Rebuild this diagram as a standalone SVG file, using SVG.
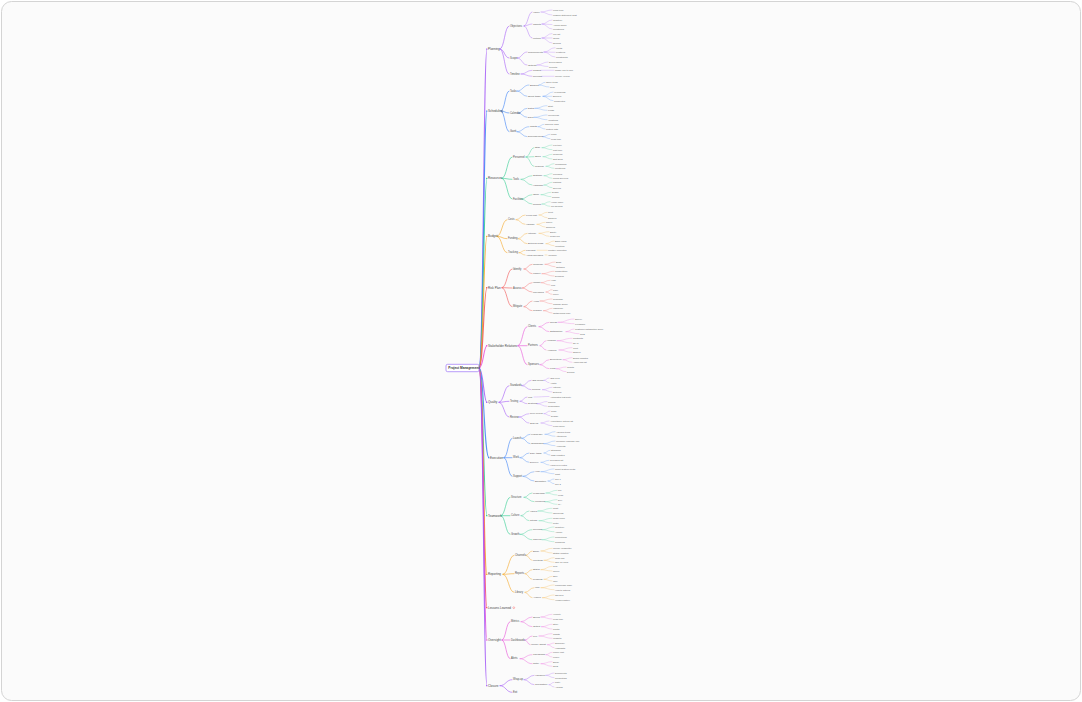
<svg xmlns="http://www.w3.org/2000/svg" width="1082" height="702" viewBox="0 0 1082 702">
<style>
text{font-family:"Liberation Sans",Arial,sans-serif;fill:#555;dominant-baseline:central}
.r{font-size:3.2px;font-weight:bold;fill:#333}
.m{font-size:3px;fill:#444}
.a{font-size:2.6px;fill:#4a4a4a}
.b{font-size:2.4px}
.c{font-size:2.3px;fill:#666}
path{fill:none;stroke-linecap:round}
.w0{stroke-width:1.1;stroke-opacity:.85}.w1{stroke-width:0.6}.w2{stroke-width:0.45;stroke-opacity:.9}.w3{stroke-width:0.35;stroke-opacity:.75}
.k1{stroke:#a259f7}.k2{stroke:#3b82f6}.k3{stroke:#2ecc8f}.k4{stroke:#f5a623}.k5{stroke:#f25454}.k6{stroke:#e84fd8}
.f1{fill:#a259f7}.f2{fill:#3b82f6}.f3{fill:#2ecc8f}.f4{fill:#f5a623}.f5{fill:#f25454}.f6{fill:#e84fd8}
</style>
<rect x="1.5" y="1.5" width="1079" height="699" rx="10" fill="#fbfbfb" stroke="#d4d4d4" stroke-width="1"/>
<g id="connectors">
<path class="w0 k1" d="M479 368C483.5 368 483.5 49 487 49"/>
<path class="w0 k2" d="M479 368C483.5 368 483.5 111 487 111"/>
<path class="w0 k3" d="M479 368C483.5 368 483.5 178.3 487 178.3"/>
<path class="w0 k4" d="M479 368C483.5 368 483.5 236.3 487 236.3"/>
<path class="w0 k5" d="M479 368C483.5 368 483.5 287.7 487 287.7"/>
<path class="w0 k6" d="M479 368C483.5 368 483.5 345.7 487 345.7"/>
<path class="w0 k1" d="M479 368C483.5 368 483.5 402.3 487 402.3"/>
<path class="w0 k2" d="M479 368C484 368 484 457.7 489 457.7"/>
<path class="w0 k3" d="M479 368C483.5 368 483.5 515.7 487 515.7"/>
<path class="w0 k4" d="M479 368C483.5 368 483.5 574.3 487 574.3"/>
<path class="w0 k5" d="M479 368C483.5 368 483.5 607.7 487 607.7"/>
<path class="w0 k6" d="M479 368C483.5 368 483.5 640 487 640"/>
<path class="w0 k1" d="M479 368C483.5 368 483.5 685.7 487 685.7"/>

<path class="w1 k1" d="M500 49C504.5 49 504.5 26 509 26M500 49C504.5 49 504.5 58 509 58M500 49C504.5 49 504.5 74 509 74"/>
<path class="w2 k1" d="M524 26C528 26 528 12 532 12M524 26C528 26 528 24 532 24M524 26C528 26 528 38 532 38M517.5 58C522 58 522 52 527 52M517.5 58C522 58 522 65 527 65M521 74C526.5 74 526.5 70.3 532 70.3M521 74C526.5 74 526.5 76.3 532 76.3"/>
<path class="w3 k1" d="M541 12C546.5 12 546.5 10 552 10M541 12C546.5 12 546.5 15 552 15M542 24C547 24 547 20 552 20M542 24C547 24 547 24.5 552 24.5M542 24C547 24 547 29 552 29M542 38C547 38 547 33.5 552 33.5M542 38L552 38M542 38C547 38 547 43 552 43M544 52C549.5 52 549.5 47.7 555 47.7M544 52C549.5 52 549.5 52.3 555 52.3M544 52C549.5 52 549.5 57 555 57M537 65C542.5 65 542.5 62 548 62M537 65C542.5 65 542.5 66.5 548 66.5M541 70.3L554 70.3M542 76.3L554 76.3"/>

<path class="w1 k2" d="M501 111C505 111 505 91 509 91M501 111C505 111 505 113 509 113M501 111C505 111 505 131.7 509 131.7"/>
<path class="w2 k2" d="M517 91C523 91 523 85 529 85M517 91C522 91 522 96.3 527 96.3M518 113C522.5 113 522.5 108.3 527 108.3M518 113C522.5 113 522.5 117.3 527 117.3M517 131.7C523 131.7 523 126.7 529 126.7M517 131.7C522 131.7 522 136.7 527 136.7"/>
<path class="w3 k2" d="M539 85C542 85 542 82.3 545 82.3M539 85C544 85 544 87 549 87M543 96.3C548 96.3 548 92 553 92M543 96.3L552 96.3M543 96.3C548 96.3 548 100.7 553 100.7M535 108.3C541 108.3 541 105.7 547 105.7M535 108.3C541 108.3 541 110.3 547 110.3M534 117.3C540.5 117.3 540.5 115 547 115M534 117.3C540.5 117.3 540.5 119.7 547 119.7M538 126.7C541 126.7 541 124.3 544 124.3M538 126.7C541.5 126.7 541.5 129 545 129M543 136.7C546.5 136.7 546.5 134.3 550 134.3M543 136.7C546.5 136.7 546.5 138.7 550 138.7"/>

<path class="w1 k3" d="M502 178.3C507 178.3 507 157 512 157M502 178.3C507 178.3 507 179.3 512 179.3M502 178.3C507 178.3 507 199 512 199"/>
<path class="w2 k3" d="M526 157C530 157 530 147.7 534 147.7M526 157C530 157 530 156.7 534 156.7M526 157C530 157 530 166.3 534 166.3M521 179.3C526.5 179.3 526.5 175.7 532 175.7M521 179.3C526.5 179.3 526.5 185 532 185M521 199C526.5 199 526.5 194.7 532 194.7M521 199C526.5 199 526.5 204 532 204"/>
<path class="w3 k3" d="M542 147.7C547 147.7 547 145 552 145M542 147.7C547 147.7 547 149.7 552 149.7M543 156.7C547.5 156.7 547.5 154.3 552 154.3M543 156.7C547.5 156.7 547.5 159 552 159M546 166.3C550 166.3 550 163.7 554 163.7M546 166.3C550 166.3 550 168.3 554 168.3M544 175.7C548 175.7 548 173.7 552 173.7M544 175.7C548 175.7 548 178.3 552 178.3M544 185C548 185 548 182.3 552 182.3M544 185C548 185 548 187.7 552 187.7M541 194.7C546 194.7 546 192.3 551 192.3M541 194.7C546 194.7 546 196.7 551 196.7M542 204C546 204 546 201.7 550 201.7M542 204C546 204 546 206.3 550 206.3"/>

<path class="w1 k4" d="M497 236.3C502 236.3 502 219.7 507 219.7M497 236.3C502 236.3 502 238.7 507 238.7M497 236.3C502 236.3 502 252.7 507 252.7"/>
<path class="w2 k4" d="M516 219.7C520.5 219.7 520.5 215 525 215M516 219.7C520.5 219.7 520.5 224.3 525 224.3M518 238.7C522.5 238.7 522.5 233.3 527 233.3M518 238.7C522.5 238.7 522.5 243.7 527 243.7M519 252.7C522 252.7 522 250.3 525 250.3M519 252.7C522 252.7 522 255 525 255"/>
<path class="w3 k4" d="M539 215C543 215 543 212.3 547 212.3M539 215C543 215 543 217.7 547 217.7M537 224.3C541 224.3 541 222.3 545 222.3M537 224.3C541 224.3 541 227 545 227M539 233.3C544 233.3 544 231.7 549 231.7M539 233.3C544 233.3 544 236.3 549 236.3M546 243.7C550 243.7 550 241 554 241M546 243.7C550 243.7 550 245.7 554 245.7M537 250.3L547 250.3M545 255L547 255"/>

<path class="w1 k5" d="M502 287.7C507 287.7 507 269 512 269M502 287.7C507 287.7 507 288 512 288M502 287.7C507 287.7 507 306.7 512 306.7"/>
<path class="w2 k5" d="M524 269C528 269 528 264.3 532 264.3M524 269C528 269 528 273.7 532 273.7M522 288C527 288 527 282.7 532 282.7M522 288C527 288 527 292 532 292M524 306.7C528 306.7 528 301 532 301M524 306.7C528 306.7 528 310.7 532 310.7"/>
<path class="w3 k5" d="M545 264.3C550 264.3 550 262 555 262M545 264.3C550 264.3 550 266.7 555 266.7M542 273.7C548 273.7 548 271.3 554 271.3M542 273.7C548 273.7 548 276 554 276M541 282.7C545.5 282.7 545.5 280.3 550 280.3M541 282.7C545.5 282.7 545.5 285 550 285M546 292C549 292 549 289.7 552 289.7M546 292C549 292 549 294.3 552 294.3M540 301C546 301 546 299 552 299M540 301C546 301 546 303.7 552 303.7M543.5 310.7C548 310.7 548 308.3 552 308.3M543.5 310.7C548 310.7 548 313 552 313"/>

<path class="w1 k6" d="M518 345.7C522.5 345.7 522.5 326.7 527 326.7M518 345.7L527 345.7M518 345.7C522.5 345.7 522.5 364.7 527 364.7"/>
<path class="w2 k6" d="M539 326.7C544 326.7 544 322.3 549 322.3M539 326.7C544 326.7 544 331.7 549 331.7M540 345.7C543 345.7 543 340.7 546 340.7M540 345.7C543 345.7 543 350 546 350M540 364.7C544.5 364.7 544.5 359.7 549 359.7M540 364.7C544.5 364.7 544.5 368.7 549 368.7"/>
<path class="w3 k6" d="M558 322.3C566 322.3 566 319 574 319M558 322.3C566 322.3 566 323.7 574 323.7M566 331.7C570 331.7 570 329 574 329M566 331.7C572.5 331.7 572.5 333.7 579 333.7M557 340.7C564.5 340.7 564.5 338.3 572 338.3M557 340.7C564.5 340.7 564.5 343 572 343M559 350C565.5 350 565.5 347.7 572 347.7M559 350C565.5 350 565.5 352.3 572 352.3M563 359.7C567.5 359.7 567.5 357.7 572 357.7M563 359.7C567.5 359.7 567.5 362.3 572 362.3M556 368.7C561 368.7 561 367 566 367M556 368.7C561 368.7 561 371.7 566 371.7"/>

<path class="w1 k1" d="M499 402.3C504 402.3 504 385.7 509 385.7M499 402.3C504 402.3 504 401.3 509 401.3M499 402.3C504 402.3 504 417 509 417"/>
<path class="w2 k1" d="M522 385.7C526.5 385.7 526.5 380.3 531 380.3M522 385.7C526.5 385.7 526.5 389.7 531 389.7M520 401.3C523.5 401.3 523.5 397 527 397M520 401.3C523.5 401.3 523.5 403.7 527 403.7M519 417C524 417 524 413.7 529 413.7M519 417C524 417 524 423 529 423"/>
<path class="w3 k1" d="M544 380.3C546.5 380.3 546.5 378 549 378M544 380.3C546.5 380.3 546.5 382.7 549 382.7M542.5 389.7C547.5 389.7 547.5 387.3 552 387.3M542.5 389.7C547.5 389.7 547.5 392 552 392M534 397C541.5 397 541.5 396.5 549 396.5M537 403.7C542 403.7 542 401.5 547 401.5M537 403.7C542 403.7 542 406.3 547 406.3M544 413.7C547 413.7 547 411 550 411M544 413.7C547 413.7 547 415.7 550 415.7M541 423C545 423 545 421 549 421M541 423C546.5 423 546.5 425.7 552 425.7"/>

<path class="w1 k2" d="M504 457.7C508 457.7 508 438.3 512 438.3M504 457.7L512 457.7M504 457.7C508 457.7 508 476.3 512 476.3"/>
<path class="w2 k2" d="M522 438.3C526 438.3 526 434.3 530 434.3M522 438.3C526 438.3 526 443.7 530 443.7M520 457.7C524.5 457.7 524.5 453 529 453M520 457.7C524.5 457.7 524.5 462.3 529 462.3M523 476.3C528.5 476.3 528.5 471.7 534 471.7M523 476.3C528.5 476.3 528.5 481 534 481"/>
<path class="w3 k2" d="M545 434.3C550 434.3 550 431.7 555 431.7M545 434.3C550 434.3 550 436.3 555 436.3M544 443.7C549.5 443.7 549.5 441 555 441M544 443.7C549.5 443.7 549.5 445.7 555 445.7M544 453C547 453 547 450.3 550 450.3M544 453C547 453 547 455 550 455M541 462.3C545 462.3 545 460.3 549 460.3M541 462.3C545 462.3 545 465 549 465M541 471.7C547.5 471.7 547.5 469 554 469M541 471.7C547.5 471.7 547.5 473.7 554 473.7M548 481C551 481 551 479 554 479M548 481C551 481 551 483.7 554 483.7"/>

<path class="w1 k3" d="M501 515.7C505.5 515.7 505.5 497.3 510 497.3M501 515.7L510 515.7M501 515.7C505.5 515.7 505.5 534.3 510 534.3"/>
<path class="w2 k3" d="M524 497.3C528 497.3 528 493 532 493M524 497.3C529 497.3 529 501.7 534 501.7M521 515.7C525 515.7 525 511 529 511M521 515.7C525 515.7 525 520.7 529 520.7M520 534.3C526 534.3 526 529.7 532 529.7M520 534.3C526 534.3 526 539.7 532 539.7"/>
<path class="w3 k3" d="M546 493C551.5 493 551.5 490.3 557 490.3M546 493C551.5 493 551.5 495 557 495M545 501.7C551 501.7 551 499.7 557 499.7M545 501.7C551 501.7 551 504.3 557 504.3M538 511C545 511 545 508.3 552 508.3M538 511C545 511 545 513 552 513M539 520.7C545.5 520.7 545.5 518.3 552 518.3M539 520.7C545.5 520.7 545.5 523 552 523M542 529.7C548 529.7 548 527 554 527M542 529.7C548 529.7 548 531.7 554 531.7M542 539.7C548 539.7 548 537 554 537M542 539.7C548 539.7 548 541.7 554 541.7"/>

<path class="w1 k4" d="M503 574.3C508.5 574.3 508.5 555.3 514 555.3M503 574.3C508.5 574.3 508.5 573.7 514 573.7M503 574.3C508.5 574.3 508.5 592.3 514 592.3"/>
<path class="w2 k4" d="M526 555.3C529 555.3 529 551 532 551M526 555.3C529 555.3 529 560.3 532 560.3M525 573.7C528.5 573.7 528.5 569.7 532 569.7M525 573.7C528.5 573.7 528.5 579.3 532 579.3M525 592.3C529.5 592.3 529.5 587.7 534 587.7M525 592.3C528.5 592.3 528.5 597.7 532 597.7"/>
<path class="w3 k4" d="M541 551C546.5 551 546.5 548.3 552 548.3M541 551C546.5 551 546.5 553 552 553M544 560.3C549 560.3 549 557.7 554 557.7M544 560.3C549 560.3 549 562.3 554 562.3M541 569.7C546.5 569.7 546.5 566.3 552 566.3M541 569.7C546.5 569.7 546.5 571 552 571M544 579.3C548 579.3 548 576.3 552 576.3M544 579.3C548 579.3 548 581 552 581M541 587.7C547.5 587.7 547.5 585 554 585M541 587.7C547.5 587.7 547.5 589.7 554 589.7M542.5 597.7C548 597.7 548 595 554 595M542.5 597.7C548 597.7 548 599.7 554 599.7"/>

<path class="w1 k6" d="M502 640C506 640 506 621.7 510 621.7M502 640L510 640M502 640C506 640 506 658.7 510 658.7"/>
<path class="w2 k6" d="M521 621.7C526.5 621.7 526.5 617 532 617M521 621.7C526.5 621.7 526.5 626.7 532 626.7M525 640C528.5 640 528.5 636 532 636M525 640C527.5 640 527.5 644.7 530 644.7M520 658.7C526 658.7 526 654.7 532 654.7M520 658.7C526 658.7 526 663.7 532 663.7"/>
<path class="w3 k6" d="M541 617C546.5 617 546.5 614.3 552 614.3M541 617C546.5 617 546.5 619 552 619M541.5 626.7C547 626.7 547 624.3 552 624.3M541.5 626.7C547 626.7 547 629 552 629M539 636C545.5 636 545.5 633.7 552 633.7M539 636C545.5 636 545.5 638.3 552 638.3M547.5 644.7C551 644.7 551 643 554 643M547.5 644.7C551 644.7 551 647.7 554 647.7M546 654.7C549 654.7 549 652.3 552 652.3M546 654.7C549 654.7 549 657 552 657M541 663.7C546.5 663.7 546.5 661.7 552 661.7M541 663.7C546.5 663.7 546.5 666.3 552 666.3"/>

<path class="w1 k1" d="M500 685.7C506 685.7 506 679.7 512 679.7M500 685.7C506 685.7 506 692.3 512 692.3"/>
<path class="w2 k1" d="M524 679.7C529 679.7 529 675.3 534 675.3M524 679.7C529 679.7 529 684.7 534 684.7"/>
<path class="w3 k1" d="M546 675.3C550 675.3 550 673 554 673M546 675.3C550 675.3 550 677.7 554 677.7M549 684.7C551.5 684.7 551.5 682.3 554 682.3M549 684.7C551.5 684.7 551.5 687 554 687"/>
</g>

<g id="root"><rect x="446" y="364.3" width="33" height="7.4" rx="1.6" fill="#fff" stroke="#8b5cf6" stroke-width="0.6"/><text class="r" x="448.3" y="368">Project Management</text></g>

<g id="n1"><circle class="f1" cx="486.6" cy="49" r="0.6"/><text class="m" x="488" y="49">Planning</text></g>
<g id="n1-1"><text class="a" x="510" y="26">Objectives</text></g>
<g id="n1-1-1"><text class="b" x="533" y="12">Vision</text></g>
<g id="n1-1-1-1"><text class="c" x="553" y="10">Long term</text></g>
<g id="n1-1-1-2"><text class="c" x="553" y="15">Mission statement draft</text></g>
<g id="n1-1-2"><text class="b" x="533" y="24">Targets</text></g>
<g id="n1-1-2-1"><text class="c" x="553" y="20">Quarterly</text></g>
<g id="n1-1-2-2"><text class="c" x="553" y="24.5">Annual goals</text></g>
<g id="n1-1-2-3"><text class="c" x="553" y="29">Milestones</text></g>
<g id="n1-1-3"><text class="b" x="533" y="38">Metrics</text></g>
<g id="n1-1-3-1"><text class="c" x="553" y="33.5">KPI list</text></g>
<g id="n1-1-3-2"><text class="c" x="553" y="38">OKRs</text></g>
<g id="n1-1-3-3"><text class="c" x="553" y="43">Scoring</text></g>
<g id="n1-2"><text class="a" x="510" y="58">Scope</text></g>
<g id="n1-2-1"><text class="b" x="528" y="52">Requirements</text></g>
<g id="n1-2-1-1"><text class="c" x="556" y="47.7">Inputs</text></g>
<g id="n1-2-1-2"><text class="c" x="556" y="52.3">Features</text></g>
<g id="n1-2-1-3"><text class="c" x="556" y="57">Constraints</text></g>
<g id="n1-2-2"><text class="b" x="528" y="65">Outputs</text></g>
<g id="n1-2-2-1"><text class="c" x="549" y="62">Deliverables</text></g>
<g id="n1-2-2-2"><text class="c" x="549" y="66.5">Reports</text></g>
<g id="n1-3"><text class="a" x="510" y="74">Timeline</text></g>
<g id="n1-3-1"><text class="b" x="533" y="70.3">Phases</text></g>
<g id="n1-3-1-1"><text class="c" x="555" y="70.3">Phase one to four</text></g>
<g id="n1-3-2"><text class="b" x="533" y="76.3">Reviews</text></g>
<g id="n1-3-2-1"><text class="c" x="555" y="76.3">Weekly review</text></g>

<g id="n2"><circle class="f2" cx="486.6" cy="111" r="0.6"/><text class="m" x="488" y="111">Scheduling</text></g>
<g id="n2-1"><text class="a" x="510" y="91">Tasks</text></g>
<g id="n2-1-1"><text class="b" x="530" y="85">Backlog</text></g>
<g id="n2-1-1-1"><text class="c" x="546" y="82.3">Open items</text></g>
<g id="n2-1-1-2"><text class="c" x="550" y="87">New</text></g>
<g id="n2-1-2"><text class="b" x="528" y="96.3">Sprint tasks</text></g>
<g id="n2-1-2-1"><text class="c" x="554" y="92">In progress</text></g>
<g id="n2-1-2-2"><text class="c" x="553" y="96.3">Blocked</text></g>
<g id="n2-1-2-3"><text class="c" x="554" y="100.7">Completed</text></g>
<g id="n2-2"><text class="a" x="510" y="113">Calendar</text></g>
<g id="n2-2-1"><text class="b" x="528" y="108.3">Dates</text></g>
<g id="n2-2-1-1"><text class="c" x="548" y="105.7">Start</text></g>
<g id="n2-2-1-2"><text class="c" x="548" y="110.3">Finish</text></g>
<g id="n2-2-2"><text class="b" x="528" y="117.3">Days</text></g>
<g id="n2-2-2-1"><text class="c" x="548" y="115">Weekends</text></g>
<g id="n2-2-2-2"><text class="c" x="548" y="119.7">Vacations</text></g>
<g id="n2-3"><text class="a" x="510" y="131.7">Gantt</text></g>
<g id="n2-3-1"><text class="b" x="530" y="126.7">Charts</text></g>
<g id="n2-3-1-1"><text class="c" x="545" y="124.3">Timeline bars</text></g>
<g id="n2-3-1-2"><text class="c" x="546" y="129">Critical path</text></g>
<g id="n2-3-2"><text class="b" x="528" y="136.7">Dependencies</text></g>
<g id="n2-3-2-1"><text class="c" x="551" y="134.3">Links</text></g>
<g id="n2-3-2-2"><text class="c" x="551" y="138.7">Lead time</text></g>

<g id="n3"><circle class="f3" cx="486.6" cy="178.3" r="0.6"/><text class="m" x="488" y="178.3">Resources</text></g>
<g id="n3-1"><text class="a" x="513" y="157">Personnel</text></g>
<g id="n3-1-1"><text class="b" x="535" y="147.7">Staff</text></g>
<g id="n3-1-1-1"><text class="c" x="553" y="145">Full time</text></g>
<g id="n3-1-1-2"><text class="c" x="553" y="149.7">Part time</text></g>
<g id="n3-1-2"><text class="b" x="535" y="156.7">Skills</text></g>
<g id="n3-1-2-1"><text class="c" x="553" y="154.3">Technical</text></g>
<g id="n3-1-2-2"><text class="c" x="553" y="159">Soft skills</text></g>
<g id="n3-1-3"><text class="b" x="535" y="166.3">Training</text></g>
<g id="n3-1-3-1"><text class="c" x="555" y="163.7">Workshops</text></g>
<g id="n3-1-3-2"><text class="c" x="555" y="168.3">Mentoring</text></g>
<g id="n3-2"><text class="a" x="513" y="179.3">Tools</text></g>
<g id="n3-2-1"><text class="b" x="533" y="175.7">Software</text></g>
<g id="n3-2-1-1"><text class="c" x="553" y="173.7">Licenses</text></g>
<g id="n3-2-1-2"><text class="c" x="553" y="178.3">Cloud services</text></g>
<g id="n3-2-2"><text class="b" x="533" y="185">Hardware</text></g>
<g id="n3-2-2-1"><text class="c" x="553" y="182.3">Laptops</text></g>
<g id="n3-2-2-2"><text class="c" x="553" y="187.7">Servers</text></g>
<g id="n3-3"><text class="a" x="513" y="199">Facilities</text></g>
<g id="n3-3-1"><text class="b" x="533" y="194.7">Office</text></g>
<g id="n3-3-1-1"><text class="c" x="552" y="192.3">Desks</text></g>
<g id="n3-3-1-2"><text class="c" x="552" y="196.7">Rooms</text></g>
<g id="n3-3-2"><text class="b" x="533" y="204">Remote</text></g>
<g id="n3-3-2-1"><text class="c" x="551" y="201.7">Home office</text></g>
<g id="n3-3-2-2"><text class="c" x="551" y="206.3">Co-working</text></g>

<g id="n4"><circle class="f4" cx="486.6" cy="236.3" r="0.6"/><text class="m" x="488" y="236.3">Budget</text></g>
<g id="n4-1"><text class="a" x="508" y="219.7">Costs</text></g>
<g id="n4-1-1"><text class="b" x="526" y="215">Fixed cost</text></g>
<g id="n4-1-1-1"><text class="c" x="548" y="212.3">Rent</text></g>
<g id="n4-1-1-2"><text class="c" x="548" y="217.7">Salaries</text></g>
<g id="n4-1-2"><text class="b" x="526" y="224.3">Variable</text></g>
<g id="n4-1-2-1"><text class="c" x="546" y="222.3">Travel</text></g>
<g id="n4-1-2-2"><text class="c" x="546" y="227">Supplies</text></g>
<g id="n4-2"><text class="a" x="508" y="238.7">Funding</text></g>
<g id="n4-2-1"><text class="b" x="528" y="233.3">Internal</text></g>
<g id="n4-2-1-1"><text class="c" x="550" y="231.7">Equity</text></g>
<g id="n4-2-1-2"><text class="c" x="550" y="236.3">Reserves</text></g>
<g id="n4-2-2"><text class="b" x="528" y="243.7">External funds</text></g>
<g id="n4-2-2-1"><text class="c" x="555" y="241">Bank loans</text></g>
<g id="n4-2-2-2"><text class="c" x="555" y="245.7">Investors</text></g>
<g id="n4-3"><text class="a" x="508" y="252.7">Tracking</text></g>
<g id="n4-3-1"><text class="b" x="526" y="250.3">Forecast</text></g>
<g id="n4-3-1-1"><text class="c" x="548" y="250.3">Monthly projection</text></g>
<g id="n4-3-2"><text class="b" x="526" y="255">Actual spending</text></g>
<g id="n4-3-2-1"><text class="c" x="548" y="255">Variance</text></g>

<g id="n5"><circle class="f5" cx="486.6" cy="287.7" r="0.6"/><text class="m" x="488" y="287.7">Risk Plan</text></g>
<g id="n5-1"><text class="a" x="513" y="269">Identify</text></g>
<g id="n5-1-1"><text class="b" x="533" y="264.3">Technical</text></g>
<g id="n5-1-1-1"><text class="c" x="556" y="262">Bugs</text></g>
<g id="n5-1-1-2"><text class="c" x="556" y="266.7">Outages</text></g>
<g id="n5-1-2"><text class="b" x="533" y="273.7">Market</text></g>
<g id="n5-1-2-1"><text class="c" x="555" y="271.3">Competition</text></g>
<g id="n5-1-2-2"><text class="c" x="555" y="276">Demand</text></g>
<g id="n5-2"><text class="a" x="513" y="288">Assess</text></g>
<g id="n5-2-1"><text class="b" x="533" y="282.7">Impact</text></g>
<g id="n5-2-1-1"><text class="c" x="551" y="280.3">High</text></g>
<g id="n5-2-1-2"><text class="c" x="551" y="285">Low</text></g>
<g id="n5-2-2"><text class="b" x="533" y="292">Likelihood</text></g>
<g id="n5-2-2-1"><text class="c" x="553" y="289.7">Rare</text></g>
<g id="n5-2-2-2"><text class="c" x="553" y="294.3">Likely</text></g>
<g id="n5-3"><text class="a" x="513" y="306.7">Mitigate</text></g>
<g id="n5-3-1"><text class="b" x="533" y="301">Avoid</text></g>
<g id="n5-3-1-1"><text class="c" x="553" y="299">Redesign</text></g>
<g id="n5-3-1-2"><text class="c" x="553" y="303.7">Change scope</text></g>
<g id="n5-3-2"><text class="b" x="533" y="310.7">Transfer</text></g>
<g id="n5-3-2-1"><text class="c" x="553" y="308.3">Insurance</text></g>
<g id="n5-3-2-2"><text class="c" x="553" y="313">Outsourcing plan</text></g>

<g id="n6"><circle class="f6" cx="486.6" cy="345.7" r="0.6"/><text class="m" x="488" y="345.7">Stakeholder Relations</text></g>
<g id="n6-1"><text class="a" x="528" y="326.7">Clients</text></g>
<g id="n6-1-1"><text class="b" x="550" y="322.3">Needs</text></g>
<g id="n6-1-1-1"><text class="c" x="575" y="319">Survey</text></g>
<g id="n6-1-1-2"><text class="c" x="575" y="323.7">Feedback</text></g>
<g id="n6-1-2"><text class="b" x="550" y="331.7">Satisfaction</text></g>
<g id="n6-1-2-1"><text class="c" x="575" y="329">Customer satisfaction score</text></g>
<g id="n6-1-2-2"><text class="c" x="580" y="333.7">NPS</text></g>
<g id="n6-2"><text class="a" x="528" y="345.7">Partners</text></g>
<g id="n6-2-1"><text class="b" x="547" y="340.7">Vendors</text></g>
<g id="n6-2-1-1"><text class="c" x="573" y="338.3">Contracts</text></g>
<g id="n6-2-1-2"><text class="c" x="573" y="343">SLAs</text></g>
<g id="n6-2-2"><text class="b" x="547" y="350">Alliances</text></g>
<g id="n6-2-2-1"><text class="c" x="573" y="347.7">Joint</text></g>
<g id="n6-2-2-2"><text class="c" x="573" y="352.3">Shared</text></g>
<g id="n6-3"><text class="a" x="528" y="364.7">Sponsors</text></g>
<g id="n6-3-1"><text class="b" x="550" y="359.7">Executives</text></g>
<g id="n6-3-1-1"><text class="c" x="573" y="357.7">Board updates</text></g>
<g id="n6-3-1-2"><text class="c" x="573" y="362.3">Approvals list</text></g>
<g id="n6-3-2"><text class="b" x="550" y="368.7">Fund</text></g>
<g id="n6-3-2-1"><text class="c" x="567" y="367">Grants</text></g>
<g id="n6-3-2-2"><text class="c" x="567" y="371.7">Donors</text></g>

<g id="n7"><circle class="f1" cx="486.6" cy="402.3" r="0.6"/><text class="m" x="488" y="402.3">Quality</text></g>
<g id="n7-1"><text class="a" x="510" y="385.7">Standards</text></g>
<g id="n7-1-1"><text class="b" x="532" y="380.3">ISO norms</text></g>
<g id="n7-1-1-1"><text class="c" x="550" y="378">ISO 9001</text></g>
<g id="n7-1-1-2"><text class="c" x="550" y="382.7">Audits</text></g>
<g id="n7-1-2"><text class="b" x="532" y="389.7">Policies</text></g>
<g id="n7-1-2-1"><text class="c" x="553" y="387.3">Internal</text></g>
<g id="n7-1-2-2"><text class="c" x="553" y="392">External</text></g>
<g id="n7-2"><text class="a" x="510" y="401.3">Testing</text></g>
<g id="n7-2-1"><text class="b" x="528" y="397">Unit</text></g>
<g id="n7-2-1-1"><text class="c" x="550" y="396.5">Automated test suite</text></g>
<g id="n7-2-2"><text class="b" x="528" y="403.7">Systems</text></g>
<g id="n7-2-2-1"><text class="c" x="548" y="401.5">Manual</text></g>
<g id="n7-2-2-2"><text class="c" x="548" y="406.3">Regression</text></g>
<g id="n7-3"><text class="a" x="510" y="417">Review</text></g>
<g id="n7-3-1"><text class="b" x="530" y="413.7">Peer review</text></g>
<g id="n7-3-1-1"><text class="c" x="551" y="411">Code</text></g>
<g id="n7-3-1-2"><text class="c" x="551" y="415.7">Design</text></g>
<g id="n7-3-2"><text class="b" x="530" y="423">Sign-off</text></g>
<g id="n7-3-2-1"><text class="c" x="550" y="421">Acceptance criteria list</text></g>
<g id="n7-3-2-2"><text class="c" x="553" y="425.7">Final check</text></g>

<g id="n8"><circle class="f2" cx="488.6" cy="457.7" r="0.6"/><text class="m" x="490" y="457.7">Execution</text></g>
<g id="n8-1"><text class="a" x="513" y="438.3">Launch</text></g>
<g id="n8-1-1"><text class="b" x="531" y="434.3">Kickoff day</text></g>
<g id="n8-1-1-1"><text class="c" x="556" y="431.7">Agenda items</text></g>
<g id="n8-1-1-2"><text class="c" x="556" y="436.3">Attendees</text></g>
<g id="n8-1-2"><text class="b" x="531" y="443.7">Onboarding</text></g>
<g id="n8-1-2-1"><text class="c" x="556" y="441">Welcome package info</text></g>
<g id="n8-1-2-2"><text class="c" x="556" y="445.7">Accounts</text></g>
<g id="n8-2"><text class="a" x="513" y="457.7">Work</text></g>
<g id="n8-2-1"><text class="b" x="530" y="453">Daily tasks</text></g>
<g id="n8-2-1-1"><text class="c" x="551" y="450.3">Standups</text></g>
<g id="n8-2-1-2"><text class="c" x="551" y="455">Task updates</text></g>
<g id="n8-2-2"><text class="b" x="530" y="462.3">Delivery</text></g>
<g id="n8-2-2-1"><text class="c" x="550" y="460.3">Releases list</text></g>
<g id="n8-2-2-2"><text class="c" x="550" y="465">Hand-over notes</text></g>
<g id="n8-3"><text class="a" x="513" y="476.3">Support</text></g>
<g id="n8-3-1"><text class="b" x="535" y="471.7">Help</text></g>
<g id="n8-3-1-1"><text class="c" x="555" y="469">Ticket system portal</text></g>
<g id="n8-3-1-2"><text class="c" x="555" y="473.7">Chat</text></g>
<g id="n8-3-2"><text class="b" x="535" y="481">Escalation</text></g>
<g id="n8-3-2-1"><text class="c" x="555" y="479">Tier 1</text></g>
<g id="n8-3-2-2"><text class="c" x="555" y="483.7">Tier 2</text></g>

<g id="n9"><circle class="f3" cx="486.6" cy="515.7" r="0.6"/><text class="m" x="488" y="515.7">Teamwork</text></g>
<g id="n9-1"><text class="a" x="511" y="497.3">Structure</text></g>
<g id="n9-1-1"><text class="b" x="533" y="493">Leadership</text></g>
<g id="n9-1-1-1"><text class="c" x="558" y="490.3">PM</text></g>
<g id="n9-1-1-2"><text class="c" x="558" y="495">Lead</text></g>
<g id="n9-1-2"><text class="b" x="535" y="501.7">Members</text></g>
<g id="n9-1-2-1"><text class="c" x="558" y="499.7">Dev</text></g>
<g id="n9-1-2-2"><text class="c" x="558" y="504.3">QA</text></g>
<g id="n9-2"><text class="a" x="511" y="515.7">Culture</text></g>
<g id="n9-2-1"><text class="b" x="530" y="511">Values</text></g>
<g id="n9-2-1-1"><text class="c" x="553" y="508.3">Trust</text></g>
<g id="n9-2-1-2"><text class="c" x="553" y="513">Openness</text></g>
<g id="n9-2-2"><text class="b" x="530" y="520.7">Rituals</text></g>
<g id="n9-2-2-1"><text class="c" x="553" y="518.3">Team lunch</text></g>
<g id="n9-2-2-2"><text class="c" x="553" y="523">Retro</text></g>
<g id="n9-3"><text class="a" x="511" y="534.3">Growth</text></g>
<g id="n9-3-1"><text class="b" x="533" y="529.7">Reviews</text></g>
<g id="n9-3-1-1"><text class="c" x="555" y="527">Quarterly</text></g>
<g id="n9-3-1-2"><text class="c" x="555" y="531.7">Annual</text></g>
<g id="n9-3-2"><text class="b" x="533" y="539.7">Careers</text></g>
<g id="n9-3-2-1"><text class="c" x="555" y="537">Promotions</text></g>
<g id="n9-3-2-2"><text class="c" x="555" y="541.7">Coaching</text></g>

<g id="n10"><circle class="f4" cx="486.6" cy="574.3" r="0.6"/><text class="m" x="488" y="574.3">Reporting</text></g>
<g id="n10-1"><text class="a" x="515" y="555.3">Channels</text></g>
<g id="n10-1-1"><text class="b" x="533" y="551">Email</text></g>
<g id="n10-1-1-1"><text class="c" x="553" y="548.3">Weekly newsletter</text></g>
<g id="n10-1-1-2"><text class="c" x="553" y="553">Status updates</text></g>
<g id="n10-1-2"><text class="b" x="533" y="560.3">Meetings</text></g>
<g id="n10-1-2-1"><text class="c" x="555" y="557.7">Town hall</text></g>
<g id="n10-1-2-2"><text class="c" x="555" y="562.3">One on ones</text></g>
<g id="n10-2"><text class="a" x="515" y="573.7">Reports</text></g>
<g id="n10-2-1"><text class="b" x="533" y="569.7">Status</text></g>
<g id="n10-2-1-1"><text class="c" x="553" y="566.3">Red</text></g>
<g id="n10-2-1-2"><text class="c" x="553" y="571">Green</text></g>
<g id="n10-2-2"><text class="b" x="533" y="579.3">Progress</text></g>
<g id="n10-2-2-1"><text class="c" x="553" y="576.3">25%</text></g>
<g id="n10-2-2-2"><text class="c" x="553" y="581">75%</text></g>
<g id="n10-3"><text class="a" x="515" y="592.3">Library</text></g>
<g id="n10-3-1"><text class="b" x="535" y="587.7">Wiki</text></g>
<g id="n10-3-1-1"><text class="c" x="555" y="585">Knowledge base</text></g>
<g id="n10-3-1-2"><text class="c" x="555" y="589.7">How-to articles</text></g>
<g id="n10-3-2"><text class="b" x="533" y="597.7">Archive</text></g>
<g id="n10-3-2-1"><text class="c" x="555" y="595">Old files</text></g>
<g id="n10-3-2-2"><text class="c" x="555" y="599.7">Version history</text></g>

<g id="n11"><circle class="f5" cx="486.6" cy="607.7" r="0.6"/><text class="m" x="488" y="607.7">Lessons Learned</text><circle cx="513.8" cy="607.7" r="0.9" fill="#fff" stroke="#f25454" stroke-width="0.4"/></g>

<g id="n12"><circle class="f6" cx="486.6" cy="640" r="0.6"/><text class="m" x="488" y="640">Oversight</text></g>
<g id="n12-1"><text class="a" x="511" y="621.7">Metrics</text></g>
<g id="n12-1-1"><text class="b" x="533" y="617">Speed</text></g>
<g id="n12-1-1-1"><text class="c" x="553" y="614.3">Velocity</text></g>
<g id="n12-1-1-2"><text class="c" x="553" y="619">Lead time</text></g>
<g id="n12-1-2"><text class="b" x="533" y="626.7">Output</text></g>
<g id="n12-1-2-1"><text class="c" x="553" y="624.3">Story</text></g>
<g id="n12-1-2-2"><text class="c" x="553" y="629">Points</text></g>
<g id="n12-2"><text class="a" x="511" y="640">Dashboards</text></g>
<g id="n12-2-1"><text class="b" x="533" y="636">Live</text></g>
<g id="n12-2-1-1"><text class="c" x="553" y="633.7">Charts</text></g>
<g id="n12-2-1-2"><text class="c" x="553" y="638.3">Widgets</text></g>
<g id="n12-2-2"><text class="b" x="531" y="644.7">Weekly digest</text></g>
<g id="n12-2-2-1"><text class="c" x="555" y="643">Summary</text></g>
<g id="n12-2-2-2"><text class="c" x="555" y="647.7">Highlights</text></g>
<g id="n12-3"><text class="a" x="511" y="658.7">Alerts</text></g>
<g id="n12-3-1"><text class="b" x="533" y="654.7">Thresholds</text></g>
<g id="n12-3-1-1"><text class="c" x="553" y="652.3">Upper limit</text></g>
<g id="n12-3-1-2"><text class="c" x="553" y="657">Lower</text></g>
<g id="n12-3-2"><text class="b" x="533" y="663.7">Notify</text></g>
<g id="n12-3-2-1"><text class="c" x="553" y="661.7">Email</text></g>
<g id="n12-3-2-2"><text class="c" x="553" y="666.3">SMS</text></g>

<g id="n13"><circle class="f1" cx="486.6" cy="685.7" r="0.6"/><text class="m" x="488" y="685.7">Closure</text></g>
<g id="n13-1"><text class="a" x="513" y="679.7">Wrap-up</text></g>
<g id="n13-1-1"><text class="b" x="535" y="675.3">Handover</text></g>
<g id="n13-1-1-1"><text class="c" x="555" y="673">Documents</text></g>
<g id="n13-1-1-2"><text class="c" x="555" y="677.7">Credentials</text></g>
<g id="n13-1-2"><text class="b" x="535" y="684.7">Celebration</text></g>
<g id="n13-1-2-1"><text class="c" x="555" y="682.3">Party</text></g>
<g id="n13-1-2-2"><text class="c" x="555" y="687">Awards</text></g>
<g id="n13-2"><text class="a" x="513" y="692.3">Exit</text></g>
</svg>
